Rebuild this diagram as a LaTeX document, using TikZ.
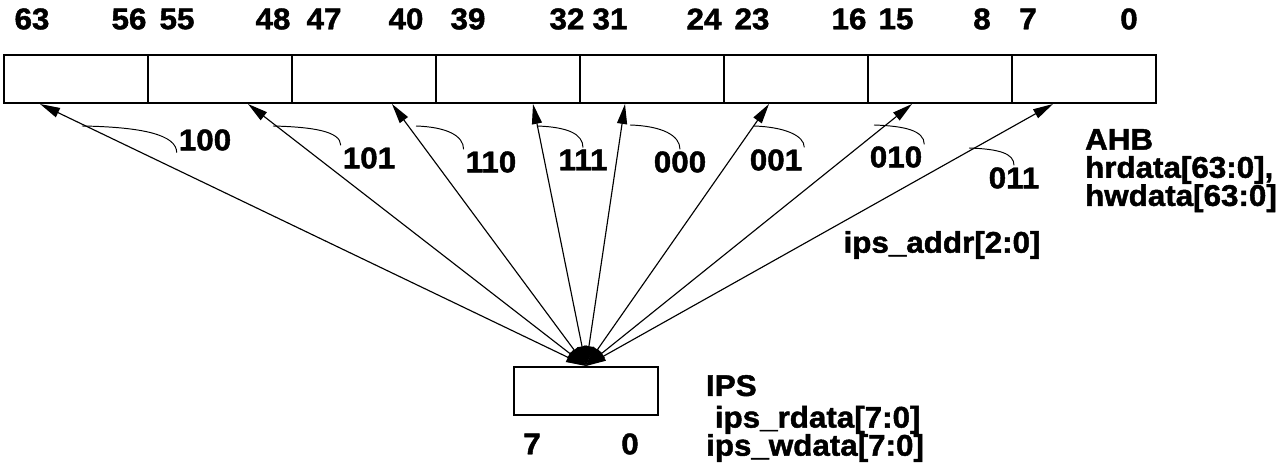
\documentclass[tikz,border=0pt]{standalone}
\usepackage{fontspec}
\setmainfont{Liberation Sans}[FakeStretch=1.05, FakeBold=1.5]
\usetikzlibrary{arrows.meta, positioning}

\begin{document}
\begin{tikzpicture}[
  x=0.02cm, y=-0.02cm,
  every node/.style={font=\fontsize{17pt}{16pt}\selectfont\bfseries, inner sep=1pt},
  lanebox/.style={draw, line width=1.13pt, minimum width=2.88cm, minimum height=0.96cm, inner sep=0pt},
  bitnum/.style={inner sep=0pt},
  arr/.style={arrows={Triangle[length=0.4cm,width=0.2cm]-Triangle[length=0.4cm,width=0.2cm]}, line width=0.65pt},
  lead/.style={line width=0.55pt}
]
\useasboundingbox (0,0) rectangle (1278,465);

% AHB bus, eight byte lanes
\foreach \i in {0,...,7}
  \node[lanebox] (lane\i) at ({76+144*\i},79) {};

\foreach \n/\x in {63/32, 56/129, 55/177, 48/273, 47/324, 40/406, 39/468, 32/567,
                   31/610, 24/704, 23/752, 16/849, 15/896, 8/982, 7/1028, 0/1129}
  \node[bitnum] (bit\n) at (\x,19) {\n};

\node[align=left, anchor=north west] (ahb) at (1083,127) {AHB\\hrdata[63:0],\\hwdata[63:0]};

% IPS byte
\node[lanebox] (ips) at (586,391) {};
\node[bitnum] (ips7) at (532,444) {7};
\node[bitnum] (ips0) at (630,444) {0};
\node[align=left, anchor=north west] (ipsname) at (704,373) {IPS\\[2pt]\ ips\_rdata[7:0]\\ips\_wdata[7:0]};

\node (addr) at (942,245) {ips\_addr[2:0]};

% lane ends of the connectors
\coordinate (t1) at (40,104);
\coordinate (t2) at (248,104);
\coordinate (t3) at (392,104);
\coordinate (t4) at (533,104);
\coordinate (t5) at (625,104);
\coordinate (t6) at (769,104);
\coordinate (t7) at (912,104);
\coordinate (t8) at (1053,104);

\foreach \k in {1,...,8}
  \draw[arr] (ips.north) -- (t\k);

% address values
\node (l100) at (205,140) {100};
\node (l101) at (369,158) {101};
\node (l110) at (491,162) {110};
\node (l111) at (583,160) {111};
\node (l000) at (680,162) {000};
\node (l001) at (776,160) {001};
\node (l010) at (896,157) {010};
\node (l011) at (1014,178) {011};

\coordinate (a100) at (82,126);
\coordinate (a101) at (273,126);
\coordinate (a110) at (416,126);
\coordinate (a111) at (537,126);
\coordinate (a000) at (630,125);
\coordinate (a001) at (754,126);
\coordinate (a010) at (874,125);
\coordinate (a011) at (969,148);

\draw[lead] (a100) .. controls +(60,1) and +(0,-18) .. (l100.south west);
\draw[lead] (a101) .. controls +(40,1) and +(0,-14) .. (l101.north west);
\draw[lead] (a110) .. controls +(30,1) and +(0,-14) .. (l110.north west);
\draw[lead] (a111) .. controls +(30,1) and +(0,-14) .. (l111.north);
\draw[lead] (a000) .. controls +(32,1) and +(0,-14) .. (l000.north);
\draw[lead] (a001) .. controls +(30,1) and +(0,-12) .. (l001.north east);
\draw[lead] (a010) .. controls +(30,1) and +(0,-14) .. (l010.north east);
\draw[lead] (a011) .. controls +(30,1) and +(0,-12) .. (l011.north);

\end{tikzpicture}
\end{document}
